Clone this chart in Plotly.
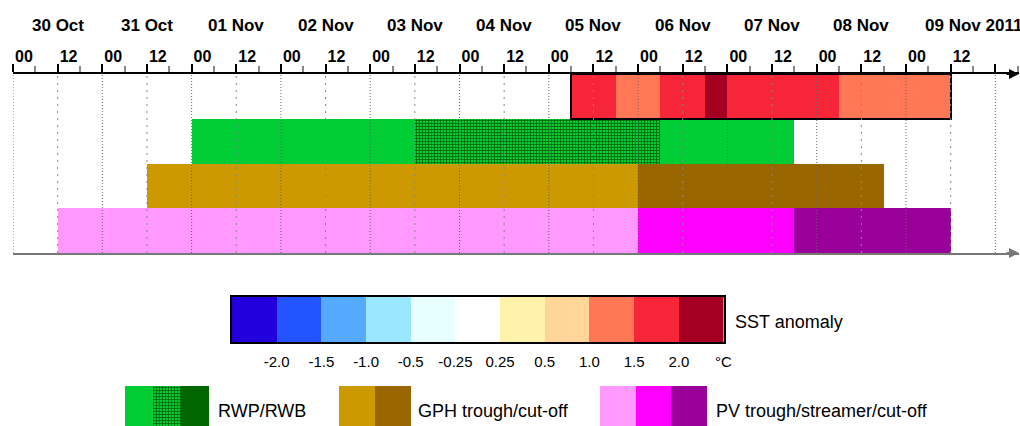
import pandas as pd
import plotly.graph_objects as go

# ---------------- data ----------------
# Segment boundaries for each row (consecutive pairs form one coloured segment)
sst_bounds = ['2011-11-05 06:00', '2011-11-05 18:00', '2011-11-06 06:00', '2011-11-06 18:00',
              '2011-11-07 00:00', '2011-11-08 06:00', '2011-11-09 12:00']
sst_class = [9, 8, 9, 10, 9, 8]          # index into sst_colors / SST anomaly bins

rwp_bounds = ['2011-11-01 00:00', '2011-11-03 12:00', '2011-11-06 06:00', '2011-11-07 18:00']
rwp_state = [0, 1, 0]                    # 0 = RWP, 1 = RWP + RWB, 2 = RWB

gph_bounds = ['2011-10-31 12:00', '2011-11-06 00:00', '2011-11-08 18:00']
gph_state = [0, 1]

pv_bounds = ['2011-10-30 12:00', '2011-11-06 00:00', '2011-11-07 18:00', '2011-11-09 12:00']
pv_state = [0, 1, 2]

sst_colors = ['#2200DD', '#2255FF', '#55AAFF', '#99E8FF', '#E8FFFF', '#FFFFFF',
              '#FFF2AA', '#FFD599', '#FF7755', '#F72538', '#A50021']
sst_ticks = ['-2.0', '-1.5', '-1.0', '-0.5', '-0.25', '0.25', '0.5', '1.0', '1.5', '2.0', '°C']

rwp_colors = ['#00CC33', '#00CC33', '#006600']
rwp_hatched = [False, True, False]       # state 1 is cross-hatched on top of its colour
gph_colors = ['#CC9900', '#996600']
pv_colors = ['#FF99FF', '#FF00FF', '#990099']

legend_names = ['RWP/RWB', 'GPH trough/cut-off', 'PV trough/streamer/cut-off']
cbar_title = 'SST anomaly'

t_start = '2011-10-30 00:00'
t_last_label = '2011-11-09 12:00'
t_last_grid = '2011-11-10 00:00'
first_day, last_day = '2011-10-30', '2011-11-09'

# ---------------- layout constants (pixels) ----------------
W, H = 1020, 426
ML, MR, MT = 13, 1, 74
PW, PH = W - ML - MR, H - MT
PX_PER_DAY = 89.3
FONT = 'Liberation Sans, Arial, sans-serif'
HATCH_FG = '#005200'
HATCH = dict(shape='+', size=3, solidity=0.4, fillmode='replace')


def px_x(px):
    return (px - ML) / PW


def px_y(py):
    return (H - py) / PH


main_bottom = px_y(253)
t0 = pd.Timestamp(t_start)
t_end = t0 + pd.Timedelta(days=PW / PX_PER_DAY)
fmt = '%Y-%m-%d %H:%M:%S'


def segments(bounds):
    t = pd.to_datetime(bounds)
    base = [b.strftime(fmt) for b in t[:-1]]
    dur = [(b - a) / pd.Timedelta(milliseconds=1) for a, b in zip(t[:-1], t[1:])]
    return base, dur


def row_bar(base, dur, colors, ypos, pattern=None):
    marker = dict(color=colors, line=dict(width=0))
    if pattern is not None:
        marker['pattern'] = pattern
    return go.Bar(orientation='h', base=base, x=dur, y=[ypos] * len(dur), width=1,
                  marker=marker, xaxis='x', yaxis='y', showlegend=False, hoverinfo='skip')


fig = go.Figure()

# rows, top to bottom: SST (3), RWP (2), GPH (1), PV (0)
b, d = segments(sst_bounds)
fig.add_trace(row_bar(b, d, [sst_colors[i] for i in sst_class], 3))
b, d = segments(rwp_bounds)
fig.add_trace(row_bar(b, d, [rwp_colors[i] for i in rwp_state], 2))
hb = [x for x, s in zip(b, rwp_state) if rwp_hatched[s]]
hd = [x for x, s in zip(d, rwp_state) if rwp_hatched[s]]
fig.add_trace(row_bar(hb, hd, HATCH_FG, 2, HATCH))
b, d = segments(gph_bounds)
fig.add_trace(row_bar(b, d, [gph_colors[i] for i in gph_state], 1))
b, d = segments(pv_bounds)
fig.add_trace(row_bar(b, d, [pv_colors[i] for i in pv_state], 0))

# outline around the whole SST period
sst_t = pd.to_datetime(sst_bounds)
fig.add_trace(go.Bar(orientation='h', base=[sst_t[0].strftime(fmt)],
                     x=[(sst_t[-1] - sst_t[0]) / pd.Timedelta(milliseconds=1)], y=[3], width=1,
                     marker=dict(color='rgba(0,0,0,0)', line=dict(color='black', width=2)),
                     xaxis='x', yaxis='y', showlegend=False, hoverinfo='skip'))

# vertical guide lines every 12 h, drawn over the bars
grid_times = pd.date_range(t_start, t_last_grid, freq='12h')
for hour, dash, col in [(0, '1px,2px', '#666666'), (12, '2px,5px', '#888888')]:
    xs, ys = [], []
    for t in grid_times[grid_times.hour == hour]:
        xs += [t.strftime(fmt), t.strftime(fmt), None]
        ys += [-0.5, 3.5, None]
    fig.add_trace(go.Scatter(x=xs, y=ys, mode='lines', line=dict(color=col, width=1, dash=dash),
                             xaxis='x2', yaxis='y', showlegend=False, hoverinfo='skip'))

# SST colour scale
fig.add_trace(go.Bar(x=list(range(len(sst_colors))), y=[1] * len(sst_colors), width=1,
                     marker=dict(color=sst_colors, line=dict(width=0)),
                     xaxis='x3', yaxis='y3', showlegend=False, hoverinfo='skip'))

# legend swatches
for k, cols in enumerate([rwp_colors, gph_colors, pv_colors]):
    ax = str(4 + k)
    fig.add_trace(go.Bar(x=list(range(len(cols))), y=[1] * len(cols), width=1,
                         marker=dict(color=cols, line=dict(width=0)),
                         xaxis='x' + ax, yaxis='y' + ax, showlegend=False, hoverinfo='skip'))
hx = [i for i, h in enumerate(rwp_hatched) if h]
fig.add_trace(go.Bar(x=hx, y=[1] * len(hx), width=1,
                     marker=dict(color=HATCH_FG, line=dict(width=0), pattern=HATCH),
                     xaxis='x4', yaxis='y4', showlegend=False, hoverinfo='skip'))

# hour tick labels (the final tick at the arrow carries no label)
tick_times = pd.date_range(t_start, t_last_grid, freq='12h')
tick_text = [t.strftime('%H') if t <= pd.Timestamp(t_last_label) else '' for t in tick_times]

hidden = dict(visible=False, fixedrange=True)
legend_dom = [(125, 209), (339, 411), (600, 707)]
legend_text_x = [216, 416, 714]

layout = dict(
    width=W, height=H, margin=dict(l=ML, r=MR, t=MT, b=0, pad=0, autoexpand=False),
    paper_bgcolor='white', plot_bgcolor='rgba(0,0,0,0)',
    font=dict(family=FONT, color='black', size=15),
    barmode='overlay', bargap=0, showlegend=False,
    xaxis=dict(type='date', range=[t0.strftime(fmt), t_end.strftime(fmt)], domain=[0, 1],
               anchor='y', side='top', showline=True, linecolor='black', linewidth=2,
               ticks='outside', ticklen=8, tickwidth=2, tickcolor='black',
               tickvals=[t.strftime(fmt) for t in tick_times], ticktext=tick_text,
               tickfont=dict(family=FONT, size=16, weight='bold', color='black'),
               ticklabelposition='outside right', ticklabelstandoff=4, automargin=False,
               minor=dict(dtick=6 * 3600 * 1000, tick0=t_start, ticks='outside', ticklen=6,
                          tickwidth=2, tickcolor='#888888', showgrid=False),
               showgrid=False, zeroline=False, layer='above traces', fixedrange=True),
    xaxis2=dict(type='date', overlaying='x', matches='x', side='bottom', anchor='y',
                showline=True, linecolor='#777777', linewidth=2, showticklabels=False,
                ticks='', showgrid=False, zeroline=False, automargin=False, fixedrange=True),
    yaxis=dict(domain=[main_bottom, 1], range=[-0.5, 3.5], visible=False, fixedrange=True),
    xaxis3=dict(domain=[px_x(232), px_x(723.5)], anchor='y3', range=[-0.5, len(sst_colors) - 0.5],
                tickvals=[i + 0.5 for i in range(len(sst_ticks))], ticktext=sst_ticks,
                showline=True, mirror=True, linecolor='black', linewidth=1.5, ticks='',
                tickfont=dict(size=15), ticklabelstandoff=5, showgrid=False, zeroline=False,
                automargin=False, fixedrange=True),
    yaxis3=dict(domain=[px_y(342), px_y(297)], anchor='x3', range=[0, 1], showline=True,
                mirror=True, linecolor='black', linewidth=1.5, showticklabels=False, ticks='',
                showgrid=False, zeroline=False, fixedrange=True),
)
for k, (a, b_) in enumerate(legend_dom):
    n = [len(rwp_colors), len(gph_colors), len(pv_colors)][k]
    layout['xaxis' + str(4 + k)] = dict(domain=[px_x(a), px_x(b_)], anchor='y' + str(4 + k),
                                        range=[-0.5, n - 0.5], **hidden)
    layout['yaxis' + str(4 + k)] = dict(domain=[0, px_y(386)], anchor='x' + str(4 + k),
                                        range=[0, 1], **hidden)
fig.update_layout(**layout)

annotations = []
# day labels above the hour labels
days = pd.date_range(first_day, last_day, freq='D')
for day in days:
    txt = day.strftime('%d %b')
    noon = (day + pd.Timedelta(hours=12)).strftime(fmt)
    if day == days[-1]:
        annotations.append(dict(x=noon, y=1, xref='x', yref='paper', text=txt + ' ' + day.strftime('%Y'),
                                showarrow=False, xanchor='left', yanchor='middle', xshift=-28,
                                yshift=MT - 25, font=dict(size=17, weight='bold')))
    else:
        annotations.append(dict(x=noon, y=1, xref='x', yref='paper', text=txt, showarrow=False,
                                xanchor='center', yanchor='middle', yshift=MT - 25,
                                font=dict(size=17, weight='bold')))
# arrow heads at the ends of the time axes
for yy, col in [(1, 'black'), (main_bottom, '#777777')]:
    annotations.append(dict(x=1, y=yy, xref='paper', yref='paper', ax=-14, ay=0, text='',
                            showarrow=True, arrowhead=2, arrowsize=1, arrowwidth=2, arrowcolor=col))
# colour-scale title and legend captions
annotations.append(dict(x=px_x(733), y=px_y(322), xref='paper', yref='paper', text=cbar_title,
                        showarrow=False, xanchor='left', yanchor='middle', font=dict(size=18)))
for name, xp in zip(legend_names, legend_text_x):
    annotations.append(dict(x=px_x(xp), y=px_y(411), xref='paper', yref='paper', text=name,
                            showarrow=False, xanchor='left', yanchor='middle', font=dict(size=18)))
fig.update_layout(annotations=annotations)

fig.write_html('out.html')
